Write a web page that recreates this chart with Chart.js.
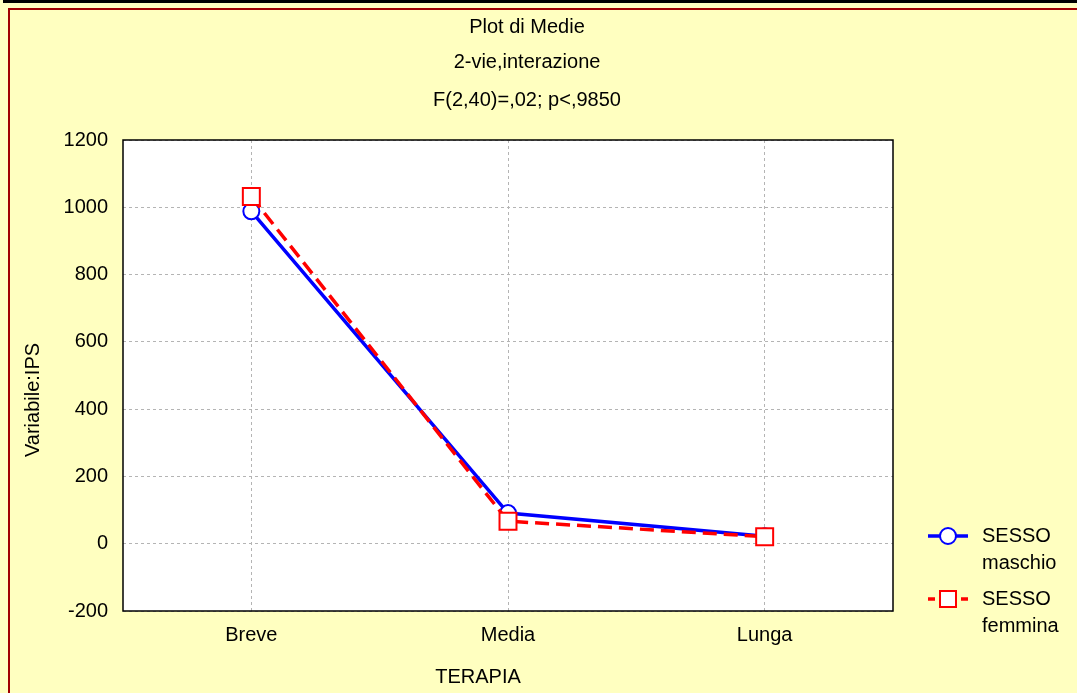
<!DOCTYPE html>
<html>
<head>
<meta charset="utf-8">
<script src="https://cdn.jsdelivr.net/npm/chart.js@4"></script>
<style>
  body { margin: 0; background: #ffffc0; overflow: hidden; }
  #frame1 { position: absolute; left: 3px; top: 0; width: 2000px; height: 2000px; border-top: 3px solid #000; }
  #frame2 { position: absolute; left: 8px; top: 8px; width: 2000px; height: 2000px; border-top: 2px solid #a00000; border-left: 2px solid #a00000; }
  #voteChart { position: absolute; left: 0; top: 0; }
</style>
</head>
<body>
<div id="frame1"></div>
<div id="frame2"></div>
<canvas id="voteChart" width="1077" height="693"></canvas>
<script>
var categories = ["Breve", "Media", "Lunga"];
var maschio = [988, 91, 22];
var femmina = [1032, 67, 21];
var yTicks = [-200, 0, 200, 400, 600, 800, 1000, 1200];
var titleLines = ["Plot di Medie", "2-vie,interazione", "F(2,40)=,02; p<,9850"];
var xTitle = "TERAPIA";
var yTitle = "Variabile:IPS";

var fontName = "'Liberation Sans', Arial, sans-serif";

// white plot area + black frame
var plotFrame = {
  id: "plotFrame",
  beforeDraw: function (chart) {
    var a = chart.chartArea;
    var ctx = chart.ctx;
    ctx.save();
    ctx.fillStyle = "#ffffff";
    ctx.fillRect(a.left, a.top, a.right - a.left, a.bottom - a.top);
    ctx.restore();
  },
  afterDraw: function (chart) {
    var a = chart.chartArea;
    var ctx = chart.ctx;
    ctx.save();
    ctx.strokeStyle = "#000000";
    ctx.lineWidth = 1.5;
    ctx.strokeRect(a.left, a.top, a.right - a.left, a.bottom - a.top);
    ctx.restore();
  }
};

// titles placed like the original (not centred on the plot)
var titles = {
  id: "titles",
  afterDraw: function (chart) {
    var ctx = chart.ctx;
    ctx.save();
    ctx.fillStyle = "#000000";
    ctx.font = "20px " + fontName;
    ctx.textAlign = "center";
    ctx.textBaseline = "middle";
    var ys = [27, 62, 100];
    titleLines.forEach(function (t, i) { ctx.fillText(t, 527, ys[i]); });
    ctx.fillText(xTitle, 478, 677);
    ctx.translate(33, 400);
    ctx.rotate(-Math.PI / 2);
    ctx.fillText(yTitle, 0, 0);
    ctx.restore();
  }
};

// legend drawn at the right like the original
var sideLegend = {
  id: "sideLegend",
  afterDraw: function (chart) {
    var ctx = chart.ctx;
    var items = [
      { ds: chart.data.datasets[0], y: 536 },
      { ds: chart.data.datasets[1], y: 599 }
    ];
    ctx.save();
    items.forEach(function (it) {
      var ds = it.ds;
      ctx.strokeStyle = ds.borderColor;
      ctx.lineWidth = 3.5;
      ctx.setLineDash(ds.borderDash ? [7, 4] : []);
      ctx.beginPath();
      ctx.moveTo(928, it.y);
      ctx.lineTo(968, it.y);
      ctx.stroke();
      ctx.setLineDash([]);
      ctx.fillStyle = "#ffffff";
      ctx.lineWidth = 2;
      if (ds.pointStyle === "rect") {
        ctx.fillRect(940, it.y - 8, 16, 16);
        ctx.strokeRect(940, it.y - 8, 16, 16);
      } else {
        ctx.beginPath();
        ctx.arc(948, it.y, 8, 0, Math.PI * 2);
        ctx.fill();
        ctx.stroke();
      }
      ctx.fillStyle = "#000000";
      ctx.font = "20px " + fontName;
      ctx.textBaseline = "middle";
      ctx.textAlign = "left";
      var parts = ds.label.split(" ");
      ctx.fillText(parts[0], 982, it.y);
      ctx.fillText(parts[1], 982, it.y + 27);
    });
    ctx.restore();
  }
};

var ctx = document.getElementById("voteChart").getContext("2d");
new Chart(ctx, {
  type: "line",
  data: {
    labels: categories,
    datasets: [
      {
        label: "SESSO maschio",
        data: maschio,
        borderColor: "#0000ff",
        borderWidth: 3.5,
        pointStyle: "circle",
        pointRadius: 8,
        pointBorderWidth: 2,
        pointBackgroundColor: "#ffffff",
        pointBorderColor: "#0000ff",
        tension: 0,
        order: 1
      },
      {
        label: "SESSO femmina",
        data: femmina,
        borderColor: "#ff0000",
        borderWidth: 3.5,
        borderDash: [14, 7],
        pointStyle: "rect",
        pointRadius: 12,
        pointBorderWidth: 2,
        pointBackgroundColor: "#ffffff",
        pointBorderColor: "#ff0000",
        tension: 0,
        order: 0
      }
    ]
  },
  options: {
    responsive: false,
    animation: false,
    devicePixelRatio: 1,
    layout: { padding: { left: 0, right: 184, top: 140, bottom: 0 } },
    plugins: {
      legend: { display: false },
      tooltip: { enabled: false },
      title: { display: false }
    },
    scales: {
      x: {
        offset: true,
        grid: { offset: false, color: "#b4b4b4", lineWidth: 1, drawTicks: false },
        border: { display: false, dash: [3, 3] },
        ticks: { color: "#000000", padding: 12, font: { family: fontName, size: 20 } },
        afterFit: function (scale) { scale.height = 82; }
      },
      y: {
        min: -200,
        max: 1200,
        afterBuildTicks: function (scale) {
          scale.ticks = yTicks.map(function (v) { return { value: v }; });
        },
        grid: { color: "#b4b4b4", lineWidth: 1, drawTicks: false },
        border: { display: false, dash: [3, 3] },
        ticks: {
          color: "#000000",
          padding: 15,
          font: { family: fontName, size: 20 },
          callback: function (v) { return String(v); }
        },
        afterFit: function (scale) { scale.width = 123; }
      }
    }
  },
  plugins: [plotFrame, titles, sideLegend]
});
</script>
</body>
</html>
